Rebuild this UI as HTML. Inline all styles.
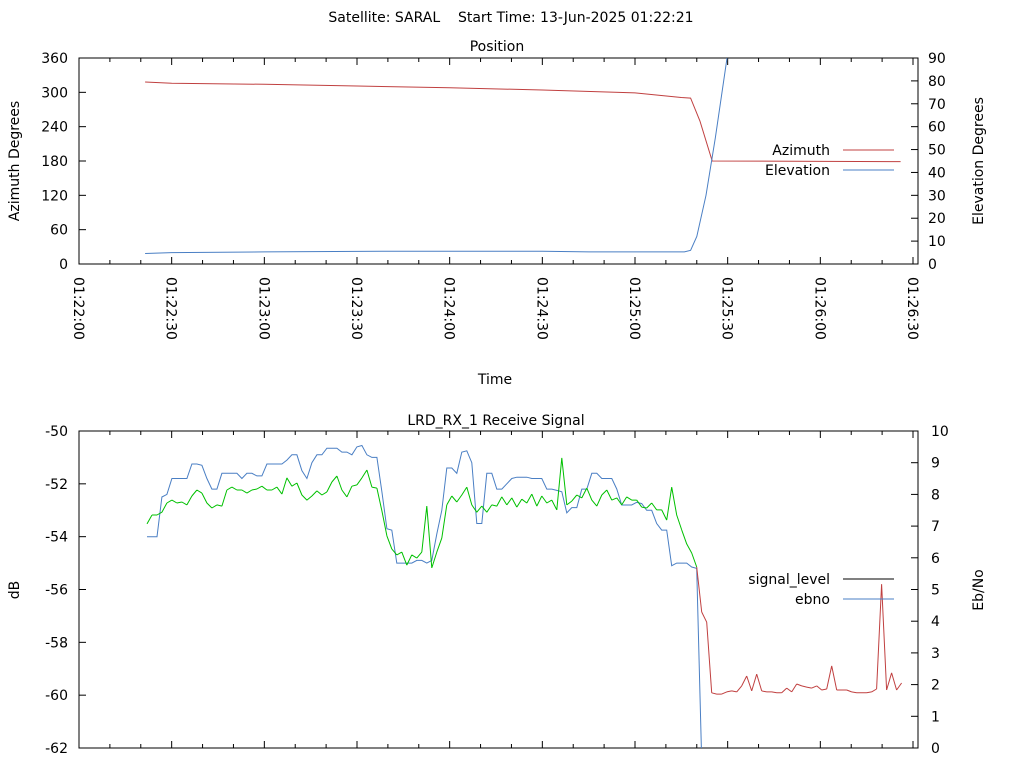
<!DOCTYPE html>
<html><head><meta charset="utf-8"><style>
body{margin:0;background:#fff}
svg{display:block;font-family:"DejaVu Sans","Liberation Sans",sans-serif;font-size:14px}
text{white-space:pre}
</style></head><body>
<svg id="c" width="1024" height="768" viewBox="0 0 1024 768">
<text x="511" y="22" text-anchor="middle" xml:space="preserve">Satellite: SARAL    Start Time: 13-Jun-2025 01:22:21</text>
<text x="497" y="51" text-anchor="middle">Position</text>
<text x="495" y="384" text-anchor="middle">Time</text>
<text x="496" y="425" text-anchor="middle">LRD_RX_1 Receive Signal</text>
<text transform="translate(19,161) rotate(-90)" text-anchor="middle">Azimuth Degrees</text>
<text transform="translate(983,161) rotate(-90)" text-anchor="middle">Elevation Degrees</text>
<text transform="translate(19,590) rotate(-90)" text-anchor="middle">dB</text>
<text transform="translate(983,590) rotate(-90)" text-anchor="middle">Eb/No</text>
<g id="g"></g>
</svg>
<script>
// ---- data ----
var xTickLabels=["01:22:00","01:22:30","01:23:00","01:23:30","01:24:00","01:24:30","01:25:00","01:25:30","01:26:00","01:26:30"];
var azTicks=[0,60,120,180,240,300,360];
var elTicks=[0,10,20,30,40,50,60,70,80,90];
var dbTicks=[-62,-60,-58,-56,-54,-52,-50];
var ebTicks=[0,1,2,3,4,5,6,7,8,9,10];
var azTimes=[21.4,30,60,90,120,150,180,195,198,201,205,266];
var azValues=[318,316,314,311,308,304,299,291,290,250,180,179];
var elTimes=[21.4,30,60,100,150,165,196,198,200,203,206,210];
var elValues=[4.6,5,5.3,5.6,5.6,5.3,5.3,6,12,30,55,92];
var sigStart=22, sigStep=1.618;
var sigValues=[-54.0,-54.0,-54.0,-52.5,-52.4,-51.8,-51.8,-51.8,-51.8,-51.25,-51.25,-51.3,-51.8,-52.2,-52.2,-51.6,-51.6,-51.6,-51.6,-51.8,-51.6,-51.6,-51.7,-51.7,-51.25,-51.25,-51.25,-51.25,-51.1,-50.9,-50.9,-51.5,-51.8,-51.2,-50.9,-50.9,-50.65,-50.65,-50.65,-50.8,-50.8,-50.9,-50.6,-50.55,-50.9,-51.0,-51.0,-52.3,-53.7,-53.75,-55.0,-55.0,-55.0,-55.0,-54.9,-54.9,-55.0,-54.9,-53.9,-53.0,-51.4,-51.4,-51.6,-50.8,-50.75,-51.2,-53.5,-53.5,-51.6,-51.6,-52.2,-52.2,-52.0,-51.8,-51.75,-51.75,-51.75,-51.8,-51.8,-51.8,-52.2,-52.2,-52.25,-52.3,-53.1,-52.9,-52.9,-52.2,-52.2,-51.6,-51.6,-51.8,-51.8,-51.8,-52.2,-52.8,-52.8,-52.8,-52.7,-52.75,-53.0,-53.0,-53.5,-53.75,-53.75,-55.1,-55.0,-55.0,-55.0,-55.15,-55.2,-62.5];
var ebStart=22, ebStep=1.618, ebRedFrom=200;
var ebValues=[7.07,7.35,7.35,7.44,7.73,7.82,7.73,7.76,7.67,7.95,8.14,8.04,7.73,7.57,7.67,7.63,8.14,8.23,8.14,8.14,8.04,8.14,8.17,8.26,8.14,8.14,8.23,8.01,8.52,8.26,8.36,7.98,7.82,7.95,8.11,7.98,8.08,8.39,8.58,8.14,7.92,8.26,8.30,8.52,8.77,8.23,8.20,7.48,6.69,6.28,6.09,6.18,5.77,6.09,5.99,6.18,7.63,5.68,6.18,6.62,7.67,7.95,7.76,7.98,8.23,7.67,7.44,7.63,7.44,7.67,7.63,7.92,7.67,7.89,7.60,7.85,7.73,8.01,7.63,7.95,7.73,7.82,7.51,9.15,7.67,7.79,7.98,7.89,8.20,7.82,7.63,7.98,8.14,7.82,7.89,7.67,7.92,7.82,7.82,7.60,7.57,7.73,7.51,7.51,7.19,8.23,7.35,6.88,6.44,6.15,5.71,4.29,3.97,1.74,1.70,1.70,1.77,1.80,1.77,1.96,2.27,1.80,2.33,1.80,1.77,1.77,1.74,1.74,1.89,1.77,2.02,1.96,1.92,1.89,1.96,1.83,1.86,2.59,1.83,1.83,1.83,1.77,1.74,1.74,1.74,1.77,1.86,5.17,1.83,2.37,1.83,2.05];

// ---- layout ----
var L=79,R=918,T1=58,B1=264,T2=431,B2=748;
var RED="#c04040",BLUE="#4a7fc4",GREEN="#00c000";
function X(t){return L+t*(834/270);}
function yAz(v){return B1-(v/360)*(B1-T1);}
function yEl(v){return B1-(v/90)*(B1-T1);}
function yDb(v){return B2-((v+62)/12)*(B2-T2);}
function yEb(v){return B2-(v/10)*(B2-T2);}
var g=document.getElementById('g'),NS="http://www.w3.org/2000/svg";
function mk(tag,attrs,parent){var e=document.createElementNS(NS,tag);for(var k in attrs)e.setAttribute(k,attrs[k]);(parent||g).appendChild(e);return e;}
function txt(x,y,s,anchor){var e=mk('text',{x:x,y:y,'text-anchor':anchor});e.textContent=s;return e;}

var defs=mk('defs',{});
var c1=mk('clipPath',{id:'cp1'},defs);mk('rect',{x:L,y:T1,width:R-L,height:B1-T1},c1);
var c2=mk('clipPath',{id:'cp2'},defs);mk('rect',{x:L,y:T2,width:R-L,height:B2-T2},c2);

function frame(T,B,name){
  var r=mk('rect',{x:L,y:T,width:R-L,height:B-T,fill:'none',stroke:'#000','stroke-width':1});
  
  
  for(var s=0;s<=270;s+=10){
    var x=X(s),len=(s%30==0)?7:4;
    mk('line',{x1:x,y1:B,x2:x,y2:B-len,stroke:'#000'});
    mk('line',{x1:x,y1:T,x2:x,y2:T+len,stroke:'#000'});
  }
}
frame(T1,B1,'position-plot-frame');
frame(T2,B2,'signal-plot-frame');

xTickLabels.forEach(function(s,i){
  var x=X(i*30);
  var t=mk('text',{transform:'translate('+(x-5)+',277) rotate(90)','text-anchor':'start'});
  t.textContent=s;
  
  
});
azTicks.forEach(function(v){var y=yAz(v);mk('line',{x1:L,y1:y,x2:L+7,y2:y,stroke:'#000'});var t=txt(L-11,y+5,String(v),'end');});
elTicks.forEach(function(v){var y=yEl(v);mk('line',{x1:R,y1:y,x2:R-7,y2:y,stroke:'#000'});var t=txt(R+10,y+5,String(v),'start');});
dbTicks.forEach(function(v){var y=yDb(v);mk('line',{x1:L,y1:y,x2:L+7,y2:y,stroke:'#000'});var t=txt(L-11,y+5,String(v),'end');});
ebTicks.forEach(function(v){var y=yEb(v);mk('line',{x1:R,y1:y,x2:R-7,y2:y,stroke:'#000'});var t=txt(R+13,y+5,String(v),'start');});

function linePath(ts,vs,fy){var d='';for(var i=0;i<ts.length;i++){d+=(i?' L':'M')+X(ts[i]).toFixed(1)+','+fy(vs[i]).toFixed(1);}return d;}
var az=mk('path',{d:linePath(azTimes,azValues,yAz),fill:'none',stroke:RED,'clip-path':'url(#cp1)'});


var el=mk('path',{d:linePath(elTimes,elValues,yEl),fill:'none',stroke:BLUE,'clip-path':'url(#cp1)'});



var d='';sigValues.forEach(function(v,i){var x=X(sigStart+i*sigStep).toFixed(1),y=yDb(v).toFixed(1);d+=(i?' L':'M')+x+','+y;});
var sg=mk('path',{d:d,fill:'none',stroke:BLUE,'clip-path':'url(#cp2)'});



var dg='',dr='';
ebValues.forEach(function(v,i){
  if(i==0)return;
  var t0=ebStart+(i-1)*ebStep,t1=ebStart+i*ebStep;
  var seg='M'+X(t0).toFixed(1)+','+yEb(ebValues[i-1]).toFixed(1)+' L'+X(t1).toFixed(1)+','+yEb(v).toFixed(1)+' ';
  if(t1<=ebRedFrom)dg+=seg;else dr+=seg;
});
var eg=mk('path',{d:dg,fill:'none',stroke:GREEN,'clip-path':'url(#cp2)'});


var er=mk('path',{d:dr,fill:'none',stroke:RED,'clip-path':'url(#cp2)'});



function legend(y,label,color,name){
  var t=txt(830,y+5,label,'end');
  
  
  var l=mk('line',{x1:843,y1:y,x2:894,y2:y,stroke:color});
  
  
}
legend(150,'Azimuth',RED,'legend-azimuth');
legend(170,'Elevation',BLUE,'legend-elevation');
legend(579,'signal_level','#000','legend-signal-level');
legend(599,'ebno',BLUE,'legend-ebno');
</script>
</body></html>
